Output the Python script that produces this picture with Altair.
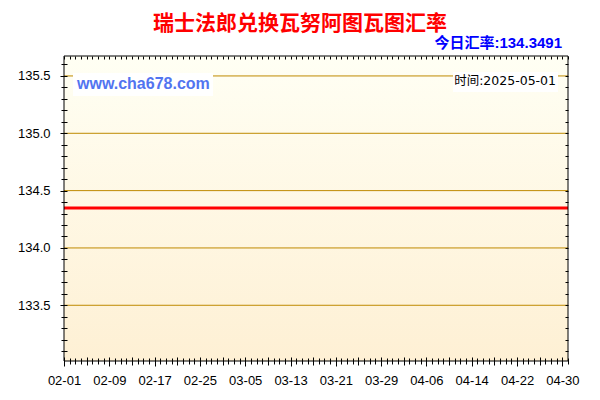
import altair as alt
import pandas as pd

# ---- data ----
dates = ["2025-02-01", "2025-02-09", "2025-02-17", "2025-02-25", "2025-03-05",
         "2025-03-13", "2025-03-21", "2025-03-29", "2025-04-06", "2025-04-14",
         "2025-04-22", "2025-04-30", "2025-05-01"]
rates = [134.3491, 134.3491, 134.3491, 134.3491, 134.3491,
         134.3491, 134.3491, 134.3491, 134.3491, 134.3491,
         134.3491, 134.3491, 134.3491]

title_text = "瑞士法郎兑换瓦努阿图瓦图汇率"
today_text = "今日汇率:134.3491"
site_text = "www.cha678.com"
time_text = "时间:2025-05-01"

x_label_dates = ["2025-02-01", "2025-02-09", "2025-02-17", "2025-02-25", "2025-03-05",
                 "2025-03-13", "2025-03-21", "2025-03-29", "2025-04-06", "2025-04-14",
                 "2025-04-22", "2025-04-30"]
y_label_values = [133.5, 134.0, 134.5, 135.0, 135.5]
grid_values = [133.5, 134.0, 134.5, 135.0, 135.5]
x_start, x_end = "2025-02-01", "2025-05-01"
y_min, y_max = 133.014, 135.674

# tick positions (axis decoration only)
day_ticks = [d.strftime("%Y-%m-%d") for d in pd.date_range(x_start, x_end, freq="D")]
four_day_ticks = [d.strftime("%Y-%m-%d") for d in pd.date_range(x_start, "2025-04-30", freq="4D")]
y_minor_ticks = [round(133.1 + 0.1 * i, 1) for i in range(26)]


def dt(s):
    y, m, d = map(int, s.split("-"))
    return alt.DateTime(year=y, month=m, date=d, utc=True)


W, H = 504, 305
FONT = "Liberation Sans"
CJK = "Noto Sans CJK SC"
GRID = "#BF8A00"

df = pd.DataFrame({"date": dates, "rate": rates})
grid_df = pd.DataFrame({"v": grid_values})
one = pd.DataFrame({"a": [0]})

xs = alt.Scale(type="utc", domain=[dt(x_start), dt(x_end)])
ys = alt.Scale(domain=[y_min, y_max], zero=False, nice=False)

common = dict(zindex=1, domain=False, grid=False, tickColor="black",
              labelFont=FONT, labelFontSize=13, labelColor="black")

x_lab_axis = alt.Axis(orient="bottom", values=[dt(d) for d in x_label_dates],
                      format="%m-%d", tickSize=5, labelPadding=8,
                      labelFlush=False, labelOverlap=False, **common)
x_four_axis = alt.Axis(orient="bottom", values=[dt(d) for d in four_day_ticks],
                       labels=False, tickSize=8, offset=-4, **common)
x_day_axis = alt.Axis(orient="bottom", values=[dt(d) for d in day_ticks],
                      labels=False, tickSize=6, offset=-3, **common)
x_top_axis = alt.Axis(orient="top", values=[dt(d) for d in day_ticks],
                      labels=False, tickSize=3, offset=-3, **common)

y_lab_axis = alt.Axis(orient="left", values=y_label_values, format=".1f",
                      tickSize=4, labelPadding=10, labelOverlap=False, **common)
y_minor_axis = alt.Axis(orient="left", values=y_minor_ticks, labels=False,
                        tickSize=6, offset=-3, **common)
y_right_axis = alt.Axis(orient="right", values=y_minor_ticks, labels=False,
                        tickSize=3, offset=-3, **common)

gradient = alt.LinearGradient(
    gradient="linear",
    stops=[alt.GradientStop(color="#FFFFF4", offset=0),
           alt.GradientStop(color="#FEF0D4", offset=1)],
    x1=0, x2=0, y1=0, y2=1)

bg = alt.Chart(one).mark_rect(color=gradient).encode(
    x=alt.value(0), x2=alt.value(W), y=alt.value(0), y2=alt.value(H))

grid = alt.Chart(grid_df).mark_rule(color=GRID, strokeWidth=1).encode(
    y=alt.Y("v:Q", scale=ys, axis=None))

line = alt.Chart(df).mark_line(color="#FF0000", strokeWidth=3).encode(
    x=alt.X("date:T", scale=xs, axis=x_lab_axis, title=None),
    y=alt.Y("rate:Q", scale=ys, axis=y_lab_axis, title=None))

inv1 = alt.Chart(df).mark_point(opacity=0).encode(
    x=alt.X("date:T", scale=xs, axis=x_four_axis, title=None),
    y=alt.Y("rate:Q", scale=ys, axis=y_minor_axis, title=None))
inv2 = alt.Chart(df).mark_point(opacity=0).encode(
    x=alt.X("date:T", scale=xs, axis=x_day_axis, title=None),
    y=alt.Y("rate:Q", scale=ys, axis=y_right_axis, title=None))
inv3 = alt.Chart(df).mark_point(opacity=0).encode(
    x=alt.X("date:T", scale=xs, axis=x_top_axis, title=None),
    y=alt.Y("rate:Q", scale=ys, axis=None))

box_site = alt.Chart(one).mark_rect(color="white").encode(
    x=alt.value(9), x2=alt.value(149), y=alt.value(17), y2=alt.value(40))
box_time = alt.Chart(one).mark_rect(color="white").encode(
    x=alt.value(389), x2=alt.value(494), y=alt.value(16), y2=alt.value(36))

t_title = alt.Chart(pd.DataFrame({"t": [title_text]})).mark_text(
    font=CJK, fontSize=21, fontWeight="bold", color="#FF0000",
    align="center", baseline="middle").encode(
    x=alt.value(236), y=alt.value(-32), text="t:N")
t_today = alt.Chart(pd.DataFrame({"t": [today_text]})).mark_text(
    font=f"{FONT}, {CJK}", fontSize=15, fontWeight="bold", color="#0000FF",
    align="right", baseline="middle").encode(
    x=alt.value(498), y=alt.value(-13), text="t:N")
t_site = alt.Chart(pd.DataFrame({"t": [site_text]})).mark_text(
    font=FONT, fontSize=16, fontWeight="bold", color="#5274F0",
    align="left", baseline="middle").encode(
    x=alt.value(13), y=alt.value(28), text="t:N")
t_time = alt.Chart(pd.DataFrame({"t": [time_text]})).mark_text(
    font=f"DejaVu Sans, {CJK}", fontSize=12.5, color="black",
    align="right", baseline="middle").encode(
    x=alt.value(492), y=alt.value(25), text="t:N")

frame = alt.Chart(one).mark_rect(fillOpacity=0, stroke="black", strokeWidth=1).encode(
    x=alt.value(0), x2=alt.value(W), y=alt.value(0), y2=alt.value(H))

chart = alt.layer(
    bg, grid, line, inv1, inv2, inv3, box_site, box_time,
    t_title, t_today, t_site, t_time, frame
).resolve_scale(x="independent", y="independent").resolve_axis(
    x="independent", y="independent"
).properties(
    width=W, height=H,
    autosize=alt.AutoSizeParams(type="none"),
    padding={"left": 56, "top": 48, "right": 24, "bottom": 31},
    background="white",
).configure_view(strokeWidth=0)

chart.save("out.html", embed_options={"renderer": "svg", "actions": False})
